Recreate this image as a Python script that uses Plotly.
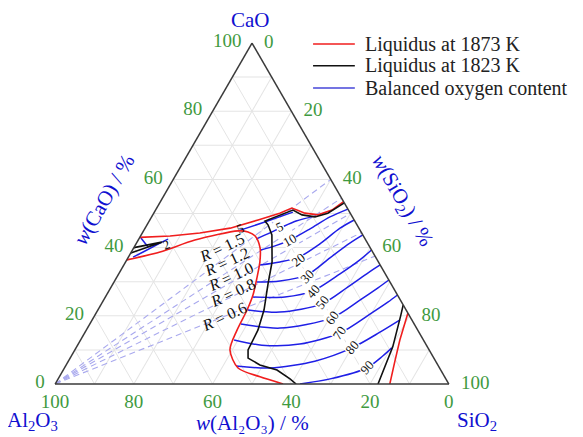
import plotly.graph_objects as go

# ---------------- data (mass %) ----------------
tick_vals = [0, 10, 20, 30, 40, 50, 60, 70, 80, 90, 100]
tick_text = ["0", "", "20", "", "40", "", "60", "", "80", "", "100"]

# Liquidus at 1873 K (red)
red_top_CaO = [43.0, 43.4, 44.3, 45.7, 48.1, 50.1, 51.6, 51.0, 50.1, 49.6, 51.0, 53.5]
red_top_SiO2 = [0.0, 7.5, 14.6, 21.6, 27.5, 32.0, 34.3, 35.9, 38.4, 42.0, 44.8, 46.5]
red_low_CaO = [36.4, 38.7, 42.2, 44.9, 44.6, 43.4, 39.9, 35.8, 31.1, 26.1, 21.7, 15.8, 10.0, 4.7, 2.1, 0.0]
red_low_SiO2 = [0.0, 7.3, 14.4, 24.0, 26.7, 29.1, 32.1, 34.1, 35.7, 37.2, 37.9, 38.3, 39.4, 44.1, 51.0, 57.9]
red_right_CaO = [20.8, 12.9, 6.5, 0.0]
red_right_SiO2 = [79.2, 81.1, 83.0, 85.0]

# Liquidus at 1823 K (black)
blk_main_CaO = [53.1, 50.1, 49.0, 49.6, 51.0, 47.8, 46.6, 43.7, 35.8, 29.6, 21.7, 15.8, 10.0, 7.6, 5.6, 4.1, 1.5, 0.0]
blk_main_SiO2 = [46.9, 44.2, 41.5, 37.9, 34.9, 29.4, 30.8, 33.2, 37.2, 39.3, 42.2, 43.6, 44.0, 45.2, 49.2, 54.3, 58.9, 61.2]
blk_wedge_CaO = [40.0, 41.6, 38.4]
blk_wedge_SiO2 = [0.0, 6.3, 0.0]
blk_right_CaO = [23.2, 20.2, 10.9, 0.0]
blk_right_SiO2 = [76.8, 77.7, 80.3, 82.0]

# Balanced oxygen content (blue iso-lines)
oxy_labels = ["5", "10", "20", "30", "40", "50", "60", "70", "80", "90"]
oxy_CaO = [
    [42.5, 44.3, 46.0, 47.8, 49.3],
    [39.3, 40.5, 42.2, 45.5, 49.0, 51.3],
    [34.9, 35.8, 37.2, 41.1, 45.7, 48.1],
    [29.9, 30.2, 32.0, 37.0, 41.3, 43.7],
    [25.5, 25.5, 27.3, 32.3, 36.4, 39.3],
    [21.7, 21.1, 23.5, 28.4, 32.6, 34.9],
    [17.6, 16.4, 19.4, 24.6, 28.2, 30.5],
    [12.9, 11.4, 11.7, 15.0, 20.5, 24.0, 26.1],
    [5.3, 4.7, 6.7, 10.6, 15.2, 18.8],
    [0.0, 1.5, 4.7, 8.2, 10.6],
]
oxy_SiO2 = [
    [29.8, 32.4, 34.6, 37.3, 41.6],
    [32.6, 35.6, 38.5, 42.0, 45.3, 48.7],
    [34.6, 39.2, 43.3, 46.7, 49.5, 51.9],
    [36.3, 42.0, 48.0, 51.3, 54.2, 56.3],
    [37.5, 45.6, 51.8, 56.2, 59.2, 60.7],
    [38.1, 46.5, 56.0, 60.1, 63.2, 65.1],
    [38.4, 48.9, 60.6, 65.1, 67.9, 69.5],
    [39.0, 46.8, 56.3, 64.9, 69.7, 72.5, 73.9],
    [43.3, 52.2, 62.6, 70.1, 74.9, 78.2],
    [62.2, 69.1, 76.8, 79.1, 80.2],
]
# short iso-lines inside the CaO-rich tongue
tongue5_CaO = [44.9, 47.5, 50.4]
tongue5_SiO2 = [24.0, 29.5, 35.2]
wedge_a_CaO = [42.8, 40.2]
wedge_a_SiO2 = [0.4, 3.5]
wedge2_CaO = [37.2, 38.7, 41.6, 42.5]
wedge2_SiO2 = [1.2, 3.0, 6.3, 7.4]

# constant CaO/SiO2 ratio lines (from the Al2O3 corner)
R_values = ["1.5", "1.2", "1.0", "0.8", "0.6"]
R_end_CaO = [60.0, 54.5, 50.0, 44.4, 37.5]
R_end_SiO2 = [40.0, 45.5, 50.0, 55.6, 62.5]

legend_names = ["Liquidus at 1873 K", "Liquidus at 1823 K", "Balanced oxygen content"]

# ---------------- styling ----------------
SERIF = "Liberation Serif"
RED = "#f01e1e"
BLACK = "#111111"
BLUE = "#1f1fe6"
DASH = "#a9a9ee"
GREEN = "#3f9a3f"
TITLE_BLUE = "#1010d0"
legend_colors = [RED, BLACK, "#4646d8"]
NB = "\u00a0\u00a0"

fig = go.Figure()


def add_line(cao, sio2, color, width=1.6, dash=None, name=None, smooth=False):
    al = [round(100 - a - c, 2) for a, c in zip(cao, sio2)]
    line = dict(color=color, width=width, dash=dash)
    if smooth:
        line.update(shape="spline", smoothing=0.8)
    fig.add_trace(go.Scatterternary(
        a=cao, b=al, c=sio2, mode="lines", line=line,
        name=name, showlegend=False, hoverinfo="skip"))


for ca, si in zip(R_end_CaO, R_end_SiO2):
    add_line([0.0, ca], [0.0, si], DASH, width=1.1, dash="6px,4px", name="R")

for ca, si in zip(oxy_CaO, oxy_SiO2):
    add_line(ca, si, BLUE, width=1.5, name=legend_names[2], smooth=True)
for ca, si in [(tongue5_CaO, tongue5_SiO2), (wedge_a_CaO, wedge_a_SiO2), (wedge2_CaO, wedge2_SiO2)]:
    add_line(ca, si, BLUE, width=1.5, name=legend_names[2])

add_line(red_top_CaO, red_top_SiO2, RED, name=legend_names[0])
add_line(red_low_CaO, red_low_SiO2, RED, name=legend_names[0], smooth=True)
add_line(red_right_CaO, red_right_SiO2, RED, name=legend_names[0])

add_line(blk_main_CaO, blk_main_SiO2, BLACK, name=legend_names[1])
add_line(blk_wedge_CaO, blk_wedge_SiO2, BLACK, name=legend_names[1])
add_line(blk_right_CaO, blk_right_SiO2, BLACK, name=legend_names[1])


def axis(ticklen, texts):
    return dict(
        tickmode="array", tickvals=tick_vals, ticktext=texts,
        tickfont=dict(color=GREEN, size=19, family=SERIF),
        showgrid=True, gridcolor="#e4e4e4", gridwidth=1,
        showline=True, linecolor="#3a3a3a", linewidth=1.5,
        ticks="outside" if ticklen else "", ticklen=ticklen,
        tickcolor="rgba(0,0,0,0)", title=dict(text=""),
    )


# the page body has an 8 px margin, so the plot area is offset by it
fig.update_layout(
    width=583, height=437,
    margin=dict(l=47, r=142, t=35, b=61),
    paper_bgcolor="white",
    font=dict(family=SERIF, size=17, color="#222222"),
    ternary=dict(
        sum=100, bgcolor="white",
        domain=dict(x=[0, 1], y=[0, 1]),
        aaxis=axis(7, tick_text),
        baxis=axis(0, tick_text),
        caxis=axis(0, [NB + t if t else t for t in tick_text]),
    ),
    showlegend=False,
)

ann = []
shapes = []
# corner names and axis titles: (text, x, y, angle, yanchor)
titles = [
    ("CaO", 0.495, 1.067, 0, "middle"),
    ("Al<sub>2</sub>O<sub>3</sub>", -0.058, -0.068, 0, "top"),
    ("SiO<sub>2</sub>", 1.071, -0.068, 0, "top"),
    ("<i>w</i>(CaO) / %", 0.124, 0.540, -60, "middle"),
    ("<i>w</i>(SiO<sub>2</sub>) / %", 0.881, 0.537, 60, "middle"),
    ("<i>w</i>(Al\u2082O\u2083) / %", 0.5, -0.152, 0, "bottom"),
]
for t, x, y, ang, ya in titles:
    ann.append(dict(text=t, x=x, y=y, xref="paper", yref="paper", showarrow=False,
                    textangle=ang, xanchor="center", yanchor=ya, borderpad=0,
                    font=dict(family=SERIF, size=21, color=TITLE_BLUE)))

# legend (drawn as lines + texts to match the reference spacing)
leg_y = [0.997, 0.933, 0.868]
for name, col, y in zip(legend_names, legend_colors, leg_y):
    shapes.append(dict(type="line", xref="paper", yref="paper", x0=0.655, x1=0.761,
                       y0=y, y1=y, line=dict(color=col, width=1.5)))
    ann.append(dict(text=name, x=0.785, y=y, xref="paper", yref="paper", showarrow=False,
                    xanchor="left", yanchor="middle", borderpad=0,
                    font=dict(family=SERIF, size=20, color="#222222")))

# R labels
R_pos = [(0.424, 0.399), (0.437, 0.358), (0.447, 0.314), (0.452, 0.267), (0.429, 0.199)]
for r, (px, py) in zip(R_values, R_pos):
    ann.append(dict(text="<i>R</i> = " + r, x=px, y=py, xref="paper", yref="paper",
                    showarrow=False, textangle=-25, xanchor="center", yanchor="middle",
                    font=dict(family=SERIF, size=16, color="#111111")))

# iso-oxygen labels
lab_pos = [(0.571, 0.463, -25), (0.594, 0.422, -30), (0.619, 0.364, -38), (0.640, 0.314, -45),
           (0.655, 0.270, -50), (0.678, 0.238, -52), (0.703, 0.196, -55), (0.723, 0.150, -55),
           (0.754, 0.106, -50), (0.792, 0.047, -48)]
for t, (px, py, ang) in zip(oxy_labels, lab_pos):
    ann.append(dict(text=t, x=px, y=py, xref="paper", yref="paper", showarrow=False,
                    textangle=ang, bgcolor="white", borderpad=0,
                    xanchor="center", yanchor="middle",
                    font=dict(family=SERIF, size=13, color="#111111")))
for t, (px, py, ang) in [("5", (0.470, 0.457, -25)), ("2", (0.284, 0.408, -20))]:
    ann.append(dict(text=t, x=px, y=py, xref="paper", yref="paper", showarrow=False,
                    textangle=ang, borderpad=0, xanchor="center", yanchor="middle",
                    font=dict(family=SERIF, size=13, color="#111111")))

fig.update_layout(annotations=ann, shapes=shapes)
fig.write_html("out.html")
